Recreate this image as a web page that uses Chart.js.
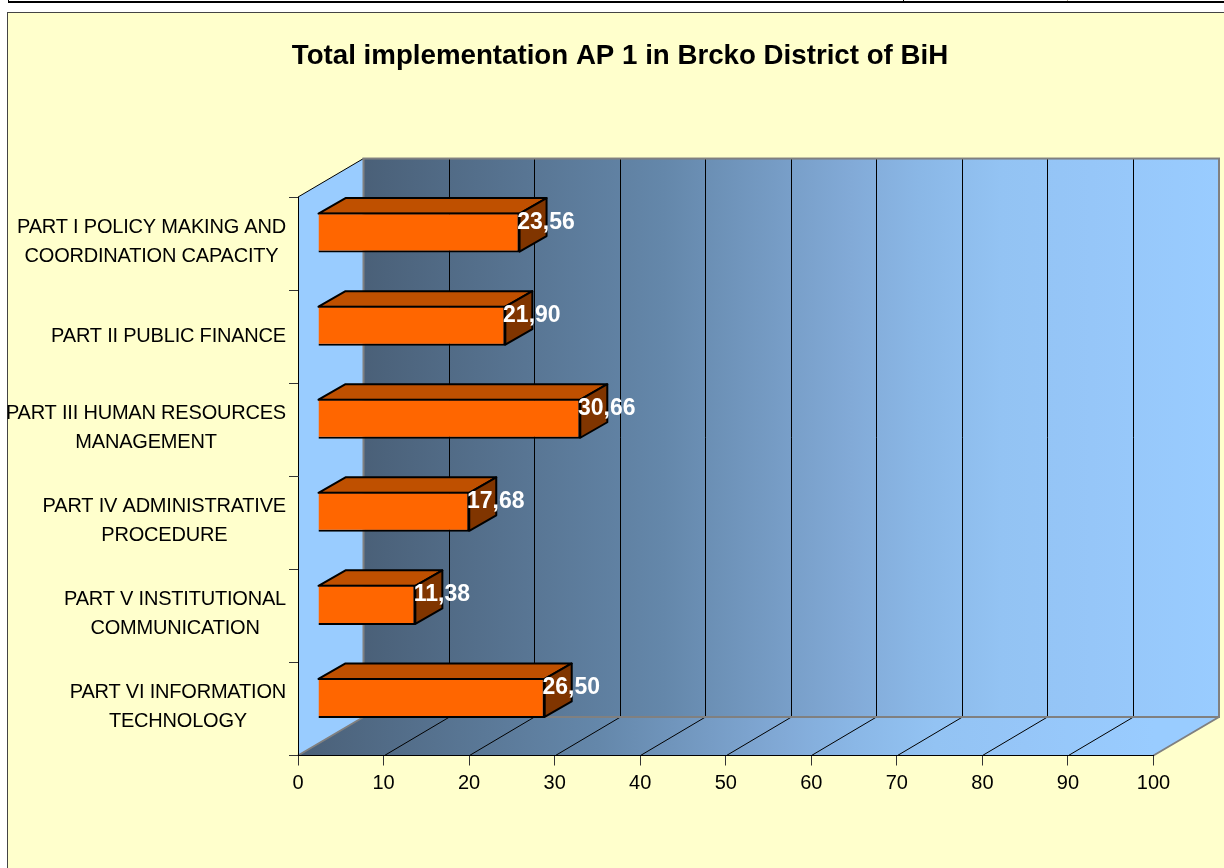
<!DOCTYPE html>
<html>
<head>
<meta charset="utf-8">
<title>Total implementation AP 1</title>
<script src="https://cdn.jsdelivr.net/npm/chart.js@4"></script>
<style>
  html, body { margin: 0; padding: 0; background: #fff; overflow: hidden; }
  #page { position: relative; width: 1224px; height: 868px; overflow: hidden; }
  #rule { position: absolute; left: 8px; right: 0; top: 1px; height: 2px; background: #000; }
  .cell-tick { position: absolute; top: 0; width: 1px; height: 1px; }
  #frame { position: absolute; left: 7px; top: 12px; width: 1300px; height: 1000px; background: #ffffcc; border: 1px solid #444; }
  canvas { position: absolute; left: 0; top: 0; }
</style>
</head>
<body>
<div id="page">
  <div id="rule"></div>
  <div class="cell-tick" style="left:8px;background:#000"></div>
  <div class="cell-tick" style="left:903px;background:#000"></div>
  <div class="cell-tick" style="left:1067px;background:#b0a890"></div>
  <div id="frame"></div>
  <canvas id="chart" width="1224" height="868"></canvas>
</div>
<script>
const categories = [
  ["PART I POLICY MAKING AND", "COORDINATION CAPACITY"],
  ["PART II PUBLIC FINANCE"],
  ["PART III HUMAN RESOURCES", "MANAGEMENT"],
  ["PART IV ADMINISTRATIVE", "PROCEDURE"],
  ["PART V INSTITUTIONAL", "COMMUNICATION"],
  ["PART VI INFORMATION", "TECHNOLOGY"],
];
const implementation = [23.56, 21.9, 30.66, 17.68, 11.38, 26.5];
const titleText = "Total implementation AP 1 in Brcko District of BiH";

const FONT = "'Liberation Sans', Arial, sans-serif";
// 3d look: how far the back wall sits from the front axes, and where bars sit in between
const WALL_DX = 65.5, WALL_DY = -38.5;
const BAR_DX = 20, BAR_DY = -11;
const BAR_DEPTH_X = 27, BAR_DEPTH_Y = -15.5;

function wallGradient(ctx, x0, x1) {
  const g = ctx.createLinearGradient(x0, 0, x1, 0);
  g.addColorStop(0, "#4a6078");
  g.addColorStop(0.35, "#6487aa");
  g.addColorStop(0.57, "#82aad7");
  g.addColorStop(0.65, "#8ab7e6");
  g.addColorStop(0.745, "#93c3f3");
  g.addColorStop(0.85, "#96c6f8");
  g.addColorStop(1, "#99ccff");
  return g;
}

function poly(ctx, pts) {
  ctx.beginPath();
  pts.forEach((p, i) => (i ? ctx.lineTo(p[0], p[1]) : ctx.moveTo(p[0], p[1])));
  ctx.closePath();
}

const walls = {
  id: "walls",
  beforeDraw(chart) {
    const { ctx, chartArea: a, scales } = chart;
    const l = a.left, r = a.right, t = a.top, b = a.bottom;
    ctx.save();

    // side wall
    poly(ctx, [[l, t], [l + WALL_DX, t + WALL_DY], [l + WALL_DX, b + WALL_DY], [l, b]]);
    ctx.fillStyle = "#99ccff";
    ctx.fill();
    ctx.strokeStyle = "#000";
    ctx.lineWidth = 1;
    ctx.beginPath();
    ctx.moveTo(l, t);
    ctx.lineTo(l + WALL_DX, t + WALL_DY);
    ctx.stroke();

    // back wall
    ctx.fillStyle = wallGradient(ctx, l + WALL_DX, r + WALL_DX);
    ctx.fillRect(l + WALL_DX, t + WALL_DY, r - l, b - t);

    // floor
    poly(ctx, [[l, b], [r, b], [r + WALL_DX, b + WALL_DY], [l + WALL_DX, b + WALL_DY]]);
    ctx.fillStyle = wallGradient(ctx, l, r);
    ctx.fill();

    // grid lines on wall and floor
    ctx.strokeStyle = "#000";
    ctx.lineWidth = 1;
    scales.x.ticks.forEach((tick) => {
      if (tick.value === 0 || tick.value === 100) return;
      const x = Math.round(scales.x.getPixelForValue(tick.value)) + 0.5;
      const wx = Math.round(x + WALL_DX - 1) + 0.5;
      ctx.beginPath();
      ctx.moveTo(wx, t + WALL_DY);
      ctx.lineTo(wx, b + WALL_DY);
      ctx.moveTo(wx, b + WALL_DY);
      ctx.lineTo(x, b);
      ctx.stroke();
    });

    // grey edges
    ctx.strokeStyle = "#808080";
    ctx.lineWidth = 2;
    ctx.strokeRect(l + WALL_DX, t + WALL_DY, r - l, b - t);
    ctx.beginPath();
    ctx.moveTo(l, b);
    ctx.lineTo(l + WALL_DX, b + WALL_DY);
    ctx.moveTo(r, b);
    ctx.lineTo(r + WALL_DX, b + WALL_DY);
    ctx.stroke();
    ctx.restore();
  },
};

const bars3d = {
  id: "bars3d",
  beforeDatasetDraw(chart) {
    const { ctx } = chart;
    const els = chart.getDatasetMeta(0).data;
    ctx.save();
    ctx.translate(BAR_DX, BAR_DY);
    ctx.strokeStyle = "#000";
    ctx.lineWidth = 2;
    ctx.lineJoin = "round";
    els.forEach((el) => {
      const top = el.y - el.height / 2 + 1, bot = el.y + el.height / 2 - 1;
      poly(ctx, [[el.base, top], [el.x, top], [el.x + BAR_DEPTH_X, top + BAR_DEPTH_Y], [el.base + BAR_DEPTH_X, top + BAR_DEPTH_Y]]);
      ctx.fillStyle = "#bf5000";
      ctx.fill();
      ctx.stroke();
      poly(ctx, [[el.x, top], [el.x + BAR_DEPTH_X, top + BAR_DEPTH_Y], [el.x + BAR_DEPTH_X, bot + BAR_DEPTH_Y], [el.x, bot]]);
      ctx.fillStyle = "#803500";
      ctx.fill();
      ctx.stroke();
    });
    // bar fronts are drawn by the library, still inside this translate
  },
  afterDatasetDraw(chart) {
    chart.ctx.restore();
  },
  afterDraw(chart) {
    const { ctx, scales } = chart;
    const els = chart.getDatasetMeta(0).data;
    ctx.save();
    ctx.textAlign = "center";
    ctx.textBaseline = "middle";

    // value labels
    ctx.font = "bold 23px " + FONT;
    ctx.fillStyle = "#fff";
    els.forEach((el, i) => {
      const s = implementation[i].toFixed(2).replace(".", ",");
      ctx.fillText(s, el.x + BAR_DX + BAR_DEPTH_X - 0.5, el.y + BAR_DY - 10);
    });

    // category labels: lines centred in a block that is flush right against the axis
    ctx.font = "20px " + FONT;
    ctx.letterSpacing = "-0.2px";
    ctx.fillStyle = "#000";
    categories.forEach((lines, i) => {
      const w = Math.max(...lines.map((t) => ctx.measureText(t).width));
      const cx = 286 - w / 2;
      const cy = scales.y.getPixelForValue(i) - 1.5 + (lines.length === 1 ? 1.5 : 0);
      lines.forEach((t, j) => ctx.fillText(t, cx, cy + (j - (lines.length - 1) / 2) * 29));
    });
    ctx.restore();
  },
};

new Chart(document.getElementById("chart"), {
  type: "bar",
  data: {
    labels: categories,
    datasets: [
      {
        data: implementation,
        backgroundColor: "#ff6600",
        borderColor: "#000",
        borderWidth: 2,
        barPercentage: 0.43,
        categoryPercentage: 1,
        clip: false,
      },
    ],
  },
  plugins: [walls, bars3d],
  options: {
    indexAxis: "y",
    responsive: false,
    animation: false,
    layout: { padding: { left: 86.5, right: 70.5, top: 0, bottom: 0 } },
    plugins: {
      legend: { display: false },
      tooltip: { enabled: false },
      title: {
        display: true,
        text: titleText,
        color: "#000",
        font: { family: FONT, size: 27.7, weight: "bold", lineHeight: 1.2 },
        padding: { top: 39.4, bottom: 124.4 },
      },
    },
    scales: {
      x: {
        min: 0,
        max: 100,
        ticks: { stepSize: 10, color: "#000", font: { family: FONT, size: 20 }, maxRotation: 0, padding: 6 },
        grid: { drawOnChartArea: false, color: "#333", tickLength: 10 },
        border: { color: "#000", width: 1 },
        afterFit(s) { s.height = 112.5; },
      },
      y: {
        ticks: { display: false, autoSkip: false },
        grid: { drawOnChartArea: false, color: "#333", tickLength: 9 },
        border: { color: "#000", width: 1 },
        afterFit(s) { s.width = 211.5; },
      },
    },
  },
});
</script>
</body>
</html>
